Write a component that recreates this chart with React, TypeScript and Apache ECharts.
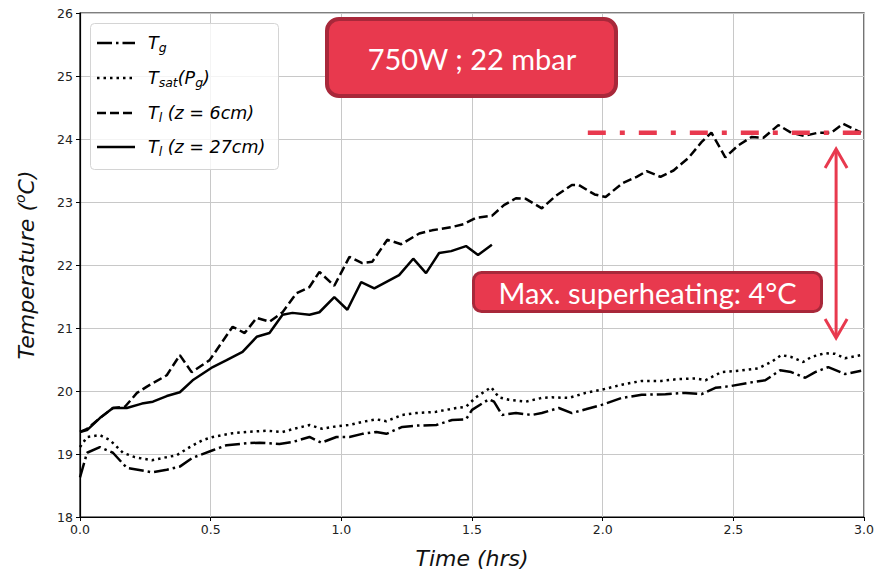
import React, { useEffect, useRef } from "react";
import * as echarts from "echarts";

// ---- data (time in hours, temperature in °C) ----
const tgTime = [0.000, 0.027, 0.076, 0.126, 0.179, 0.275, 0.332, 0.382, 0.431, 0.508, 0.561, 0.637, 0.687, 0.763, 0.813, 0.878, 0.924, 0.981, 1.031, 1.080, 1.134, 1.172, 1.233, 1.286, 1.363, 1.424, 1.477, 1.500, 1.565, 1.584, 1.615, 1.668, 1.729, 1.767, 1.832, 1.882, 1.935, 1.996, 2.073, 2.149, 2.240, 2.317, 2.378, 2.431, 2.492, 2.557, 2.622, 2.679, 2.721, 2.775, 2.813, 2.863, 2.927, 2.989];
const tgVals = [18.63, 19.02, 19.11, 19.02, 18.78, 18.71, 18.75, 18.80, 18.94, 19.06, 19.14, 19.17, 19.18, 19.16, 19.19, 19.27, 19.18, 19.27, 19.27, 19.32, 19.35, 19.32, 19.43, 19.45, 19.46, 19.54, 19.55, 19.70, 19.87, 19.83, 19.62, 19.65, 19.62, 19.65, 19.73, 19.65, 19.71, 19.78, 19.89, 19.94, 19.95, 19.97, 19.95, 20.05, 20.08, 20.13, 20.17, 20.33, 20.30, 20.21, 20.30, 20.38, 20.27, 20.32];

const tsatTime = [0.000, 0.027, 0.076, 0.115, 0.164, 0.210, 0.275, 0.332, 0.370, 0.420, 0.469, 0.508, 0.584, 0.637, 0.714, 0.775, 0.828, 0.878, 0.927, 0.981, 1.031, 1.080, 1.134, 1.172, 1.233, 1.286, 1.363, 1.439, 1.477, 1.515, 1.573, 1.603, 1.641, 1.706, 1.767, 1.805, 1.870, 1.935, 1.996, 2.073, 2.149, 2.225, 2.290, 2.355, 2.393, 2.454, 2.519, 2.595, 2.645, 2.683, 2.721, 2.767, 2.798, 2.851, 2.889, 2.927, 2.989];
const tsatVals = [19.11, 19.27, 19.30, 19.22, 19.02, 18.95, 18.90, 18.95, 18.98, 19.11, 19.22, 19.27, 19.33, 19.35, 19.37, 19.35, 19.41, 19.46, 19.40, 19.44, 19.46, 19.51, 19.55, 19.52, 19.62, 19.65, 19.67, 19.73, 19.75, 19.90, 20.06, 19.90, 19.86, 19.83, 19.89, 19.90, 19.89, 19.97, 20.02, 20.10, 20.16, 20.16, 20.19, 20.20, 20.17, 20.30, 20.32, 20.36, 20.46, 20.57, 20.54, 20.46, 20.54, 20.60, 20.59, 20.52, 20.57];

const tl6Time = [0.000, 0.027, 0.076, 0.126, 0.172, 0.218, 0.256, 0.332, 0.382, 0.427, 0.496, 0.584, 0.630, 0.676, 0.725, 0.775, 0.828, 0.878, 0.916, 0.973, 1.031, 1.080, 1.118, 1.176, 1.229, 1.298, 1.347, 1.420, 1.469, 1.515, 1.576, 1.622, 1.668, 1.706, 1.767, 1.821, 1.882, 1.908, 1.969, 2.011, 2.076, 2.130, 2.168, 2.221, 2.271, 2.328, 2.378, 2.416, 2.469, 2.519, 2.569, 2.615, 2.672, 2.721, 2.771, 2.824, 2.874, 2.920, 2.989];
const tl6Vals = [19.35, 19.40, 19.57, 19.73, 19.75, 19.97, 20.07, 20.25, 20.57, 20.30, 20.49, 21.02, 20.92, 21.16, 21.10, 21.25, 21.55, 21.65, 21.89, 21.67, 22.13, 22.03, 22.05, 22.40, 22.33, 22.50, 22.55, 22.60, 22.65, 22.75, 22.78, 22.95, 23.06, 23.05, 22.90, 23.10, 23.27, 23.27, 23.12, 23.08, 23.30, 23.40, 23.49, 23.40, 23.50, 23.70, 23.95, 24.10, 23.71, 23.90, 24.03, 24.02, 24.22, 24.10, 24.05, 24.10, 24.10, 24.24, 24.10];

const tl27Time = [0.000, 0.027, 0.076, 0.126, 0.179, 0.237, 0.279, 0.332, 0.382, 0.431, 0.508, 0.561, 0.622, 0.676, 0.725, 0.775, 0.813, 0.878, 0.916, 0.973, 1.023, 1.076, 1.126, 1.221, 1.275, 1.324, 1.374, 1.420, 1.477, 1.523, 1.576];
const tl27Vals = [19.35, 19.38, 19.57, 19.73, 19.73, 19.80, 19.83, 19.92, 19.98, 20.17, 20.38, 20.49, 20.62, 20.86, 20.92, 21.21, 21.24, 21.21, 21.25, 21.49, 21.29, 21.73, 21.63, 21.84, 22.10, 21.87, 22.19, 22.22, 22.30, 22.16, 22.32];

const xTicks = { min: 0, max: 3, interval: 0.5 };
const yTicks = { min: 18, max: 26, interval: 1 };

// annotation values
const superheatLevel = 24.1;
const superheatStart = 1.943;
const arrowTime = 2.893;
const arrowTop = 23.84;
const arrowBottom = 20.84;

const RED = "#E8394E";
const RED_DARK = "#A8283A";

const pairs = (t: number[], v: number[]) => t.map((x, i) => [x, v[i]]);

export default function App() {
  const ref = useRef<HTMLDivElement>(null);
  useEffect(() => {
    if (!ref.current) return;
    const chart = echarts.init(ref.current, null, { renderer: "svg" });
    const tickFont = { color: "#222", fontSize: 12.5, fontFamily: "DejaVu Sans" };
    const nameFont = { color: "#111", fontSize: 22, fontFamily: "DejaVu Sans", fontStyle: "italic" as const };
    const lineSeries = (name: string, data: number[][], dash: number[] | "solid") => ({
      name,
      type: "line",
      data,
      showSymbol: false,
      symbol: "none",
      lineStyle: { color: "#000", width: 2.5, type: dash },
      z: 3,
    });
    chart.setOption({
      animation: false,
      grid: { left: 80, top: 13, width: 786, height: 504, show: true, borderColor: "#000", borderWidth: 1.2 },
      xAxis: {
        type: "value",
        ...xTicks,
        axisLine: { show: true, lineStyle: { color: "#000", width: 1.2 } },
        axisTick: { show: true, length: 4, lineStyle: { color: "#000" } },
        axisLabel: { ...tickFont, margin: 6, formatter: (v: number) => v.toFixed(1) },
        splitLine: { show: true, lineStyle: { color: "#c8c8c8", width: 1 } },
        name: "Time (hrs)",
        nameLocation: "middle",
        nameGap: 30,
        nameTextStyle: nameFont,
      },
      yAxis: {
        type: "value",
        ...yTicks,
        axisLine: { show: true, lineStyle: { color: "#000", width: 1.2 } },
        axisTick: { show: true, length: 4, lineStyle: { color: "#000" } },
        axisLabel: { ...tickFont, margin: 7 },
        splitLine: { show: true, lineStyle: { color: "#c8c8c8", width: 1 } },
        name: "Temperature ({sup|o}C)",
        nameLocation: "middle",
        nameGap: 41,
        nameTextStyle: {
          ...nameFont,
          rich: { sup: { fontSize: 14, fontStyle: "italic", fontFamily: "DejaVu Sans", color: "#111", padding: [0, 0, 12, 0] } },
        },
      },
      series: [
        lineSeries("Tg", pairs(tgTime, tgVals), [15, 4, 2.5, 4]),
        lineSeries("Tsat", pairs(tsatTime, tsatVals), [2.5, 4]),
        lineSeries("Tl6", pairs(tl6Time, tl6Vals), [9, 4]),
        lineSeries("Tl27", pairs(tl27Time, tl27Vals), "solid"),
      ],
    });

    const px = (x: number, y: number) => chart.convertToPixel({ gridIndex: 0 }, [x, y]) as number[];
    const [lx0, ly] = px(superheatStart, superheatLevel);
    const [lx1] = px(xTicks.max, superheatLevel);
    const [ax, ayTop] = px(arrowTime, arrowTop);
    const [, ayBot] = px(arrowTime, arrowBottom);

    const legendRich = {
      i: { fontSize: 17.5, fontStyle: "italic", fontFamily: "DejaVu Sans", color: "#222" },
      sub: { fontSize: 12.5, fontStyle: "italic", fontFamily: "DejaVu Sans", color: "#222", padding: [9, 0, 0, 0] },
    };
    const legendRows = [
      { y: 43, dash: [15, 4, 2.5, 4], text: "{i|T}{sub|g}" },
      { y: 78, dash: [2.5, 4], text: "{i|T}{sub|sat}{i|(P}{sub|g}{i|)}" },
      { y: 113, dash: [9, 4], text: "{i|T}{sub|l}{i| (z = 6cm)}" },
      { y: 147, dash: null, text: "{i|T}{sub|l}{i| (z = 27cm)}" },
    ];
    const graphic: any[] = [
      {
        type: "rect",
        z: 10,
        shape: { x: 90.5, y: 23.5, width: 188, height: 146, r: 4 },
        style: { fill: "rgba(255,255,255,0.8)", stroke: "#d4d4d4", lineWidth: 1 },
      },
    ];
    legendRows.forEach((r) => {
      graphic.push({
        type: "line",
        z: 11,
        shape: { x1: 97, y1: r.y, x2: 135, y2: r.y },
        style: { stroke: "#000", lineWidth: 2.5, lineDash: r.dash || undefined },
      });
      graphic.push({
        type: "text",
        z: 11,
        x: 148,
        y: r.y,
        style: { text: r.text, rich: legendRich, verticalAlign: "middle", align: "left" },
      });
    });
    // title box
    graphic.push({
      type: "rect",
      z: 12,
      shape: { x: 327, y: 19, width: 289, height: 77, r: 12 },
      style: { fill: RED, stroke: RED_DARK, lineWidth: 4 },
    });
    graphic.push({
      type: "text",
      z: 13,
      x: 472,
      y: 58,
      style: { text: "750W ; 22 mbar", fill: "#fff", font: "29px Lato", align: "center", verticalAlign: "middle" },
    });
    // superheating box
    graphic.push({
      type: "rect",
      z: 12,
      shape: { x: 473.5, y: 272.5, width: 348, height: 39, r: 8 },
      style: { fill: RED, stroke: RED_DARK, lineWidth: 3 },
    });
    graphic.push({
      type: "text",
      z: 13,
      x: 647.5,
      y: 292,
      style: { text: "Max. superheating: 4°C", fill: "#fff", font: "29px Lato", align: "center", verticalAlign: "middle" },
    });
    // red dash-dot level line
    graphic.push({
      type: "line",
      z: 12,
      shape: { x1: lx0, y1: ly, x2: lx1, y2: ly },
      style: { stroke: RED, lineWidth: 4.5, lineDash: [18, 14, 5, 14] },
    });
    // double arrow
    graphic.push({
      type: "line",
      z: 12,
      shape: { x1: ax, y1: ayTop + 1, x2: ax, y2: ayBot - 1 },
      style: { stroke: RED, lineWidth: 3 },
    });
    graphic.push({
      type: "polyline",
      z: 12,
      shape: { points: [[ax - 11, ayTop + 19], [ax, ayTop], [ax + 11, ayTop + 19]] },
      style: { stroke: RED, lineWidth: 3, fill: "none" },
    });
    graphic.push({
      type: "polyline",
      z: 12,
      shape: { points: [[ax - 11, ayBot - 19], [ax, ayBot], [ax + 11, ayBot - 19]] },
      style: { stroke: RED, lineWidth: 3, fill: "none" },
    });
    chart.setOption({ graphic });

    return () => chart.dispose();
  }, []);
  return (
    <div
      ref={ref}
      style={{ position: "fixed", left: 0, top: 0, width: 877, height: 574, background: "#fff" }}
    />
  );
}
